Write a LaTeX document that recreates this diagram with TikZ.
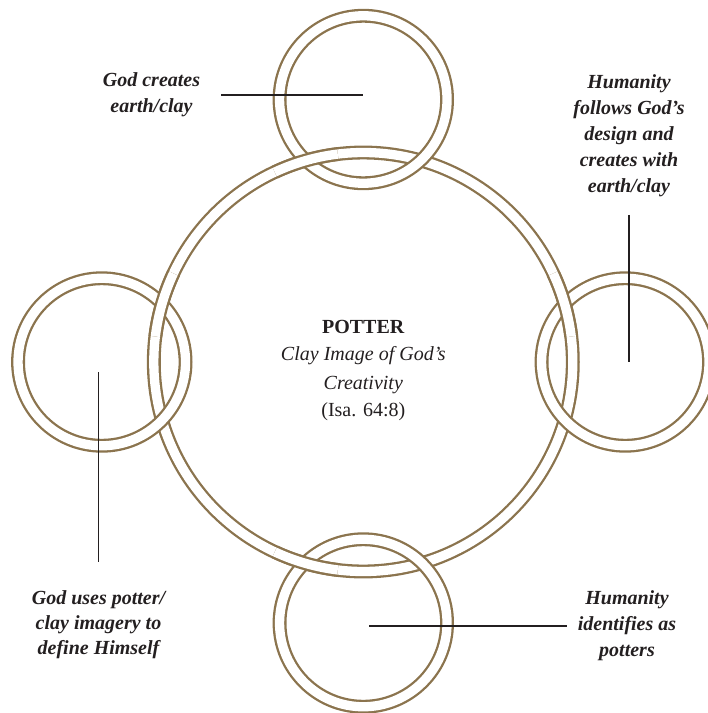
\documentclass[tikz,border=0pt]{standalone}
\usepackage{fontspec}
\setmainfont{Liberation Serif}
\definecolor{clay}{RGB}{139,116,78}
\definecolor{ink}{RGB}{35,31,32}
\usetikzlibrary{positioning}

\tikzset{
  ring/.style={draw=clay, line width=2.3pt, double=white, double distance=9.3pt},
  lbl/.style={text=ink, align=center, inner sep=0pt,
    font=\fontsize{20}{26}\selectfont\bfseries\itshape},
  leader/.style={draw=ink, line width=1.2pt},
}

\begin{document}
\begin{tikzpicture}[x=1pt, y=-1pt]
  \useasboundingbox (0,0) rectangle (708,713);
  \coordinate (mid) at (363.3,362);
  \coordinate (ringN) at (363.3,99.5);
  \coordinate (ringE) at (625.3,362);
  \coordinate (ringS) at (363.3,623);
  \coordinate (ringW) at (101.8,362);

  % rings
  \draw[ring] (mid) circle (209.5);
  \foreach \r in {ringN,ringE,ringS,ringW}
    \draw[ring] (\r) circle (83.75);
  % big ring laid back over the small ones
  \foreach \a [evaluate=\a as \s using \a-9, evaluate=\a as \e using \a+9] in {106,196,254,344}
    \draw[ring] (mid) ++(\s:209.5) arc[start angle=\s, end angle=\e, radius=209.5];

  % texts
  \node[text=ink, align=center, inner sep=0pt, font=\fontsize{20}{28}\selectfont] (potter) at (363.3,370.5)
    {\textbf{POTTER}\\\textit{Clay Image of God’s}\\\textit{Creativity}\\(Isa. 64:8)};
  \node[lbl] (clay) at (151.5,95) {God creates\\earth/clay};
  \node[lbl] (follows) at (629,135.5) {Humanity\\follows God’s\\design and\\creates with\\earth/clay};
  \node[lbl, font=\fontsize{20}{25}\selectfont\bfseries\itshape] (defines) at (98.5,625) {God uses potter/\\clay imagery to\\define Himself};
  \node[lbl] (potters) at (627,626) {Humanity\\identifies as\\potters};

  % leaders
  \coordinate (wTip) at (98.3,372);
  \coordinate (sTip) at (369.3,624);
  \draw[leader] ([xshift=21pt]clay.east) -- (clay.east -| ringN);
  \draw[leader] ([yshift=-18pt]follows.south) -- (follows.south |- ringE);
  \draw[leader] ([yshift=29pt]defines.north) -- (defines.north |- wTip);
  \draw[leader] ([xshift=-11pt]potters.west) -- (potters.west -| sTip);
\end{tikzpicture}
\end{document}
